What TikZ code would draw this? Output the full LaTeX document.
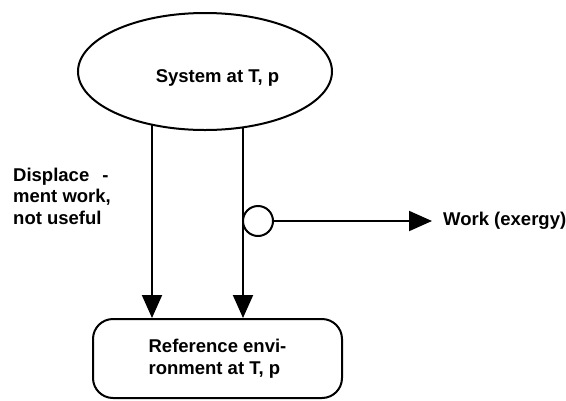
\documentclass[tikz,border=0pt]{standalone}
\usepackage{fontspec}
\setmainfont{Liberation Sans}
\usetikzlibrary{arrows.meta,shapes.geometric}
\begin{document}
\begin{tikzpicture}[x=1pt,y=-1pt,
  lbl/.style={font=\fontsize{18.5}{21.5}\selectfont\bfseries, inner sep=0pt},
  ln/.style={line width=2pt},
  arr/.style={ln, -{Triangle[length=23pt,width=20pt]}}]
\useasboundingbox (0,0) rectangle (566,400);
% system ellipse
\node[ellipse, draw, ln, minimum width=254pt, minimum height=117pt, inner sep=0pt] (sys) at (205,71.5) {};
\node[lbl, anchor=base] (systxt) at (217.5,82) {System at T, p};
% reference environment
\node[draw, ln, rounded corners=20pt, minimum width=249pt, minimum height=79pt,
      inner sep=0pt, align=left, font=\fontsize{18.5}{21.5}\selectfont\bfseries] (env) at (217.5,358.5)
      {Reference envi-\\ronment at T, p};
% vertical connectors
\coordinate (l1) at (152,124.7);
\coordinate (r1) at (243,127.3);
\draw[arr] (l1) -- (l1 |- env.north);
\draw[arr] (r1) -- (r1 |- env.north);
% valve and work output
\node[circle, draw, ln, minimum size=30pt, inner sep=0pt] (valve) at (258,221) {};
\node[lbl, anchor=west] (work) at (443,220.5) {Work (exergy)};
\draw[arr, shorten >=11pt] (valve.east) -- (valve.east -| work.west);
% displacement work label
\node[lbl, align=left, anchor=north west] (disp) at (13,167.5)
  {Displace\hspace{13pt}-\\ment work,\\not useful};
\end{tikzpicture}
\end{document}
